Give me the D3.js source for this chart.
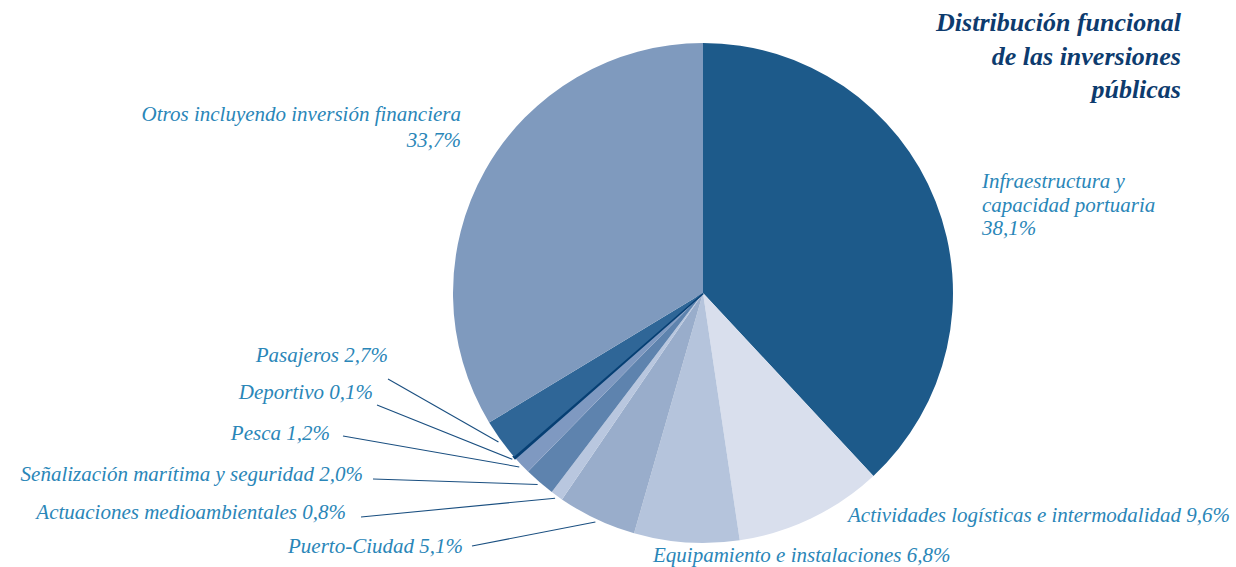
<!DOCTYPE html>
<html><head><meta charset="utf-8">
<script src="https://cdn.jsdelivr.net/npm/d3@7"></script>
</head>
<body style="margin:0;background:#fff">
<svg id="chart" width="1236" height="567" style="display:block"></svg>
<script>
const categories = ["Infraestructura y capacidad portuaria","Actividades logísticas e intermodalidad","Equipamiento e instalaciones","Puerto-Ciudad","Actuaciones medioambientales","Señalización marítima y seguridad","Pesca","Deportivo","Pasajeros","Otros incluyendo inversión financiera"];
const values = [38.1, 9.6, 6.8, 5.1, 0.8, 2.0, 1.2, 0.1, 2.7, 33.7];
const valueLabels = ["38,1%","9,6%","6,8%","5,1%","0,8%","2,0%","1,2%","0,1%","2,7%","33,7%"];
const colors = ["#1d5a8a","#d9dfed","#b5c4dc","#99adcb","#b9c7df","#5e83ae","#7f99c1","#063f73","#2f6697","#7f9abe"];
const titleLines = ["Distribución funcional","de las inversiones","públicas"];

const FONT = '"Liberation Serif", monospace';
const svg = d3.select("#chart");
const cx = 703, cy = 293, R = 250;
const g = svg.append("g").attr("transform",`translate(${cx},${cy})`);
const pie = d3.pie().sort(null).value(d=>d);
const arcs = pie(values);
const arc = d3.arc().innerRadius(0).outerRadius(R);
g.selectAll("path").data(arcs).join("path")
  .attr("d",arc).attr("fill",(d,i)=>colors[i])
  .attr("stroke",(d,i)=>values[i] < 0.5 ? colors[i] : "none")
  .attr("stroke-width",2.5);

function addText(str, x, y, anchor, size, fill, bold){
  return svg.append("text").attr("x",x).attr("y",y).attr("text-anchor",anchor)
    .attr("fill",fill).attr("font-size",size).attr("font-style","italic")
    .attr("font-weight",bold ? "bold" : "normal")
    .style("font-family",FONT).text(str);
}

titleLines.forEach((t,i)=>addText(t, 1181, 31+i*33.5, "end", 26, "#0d3b6e", true));

const labColor = "#2a86b8";
const layout = [
  [0, [ "Infraestructura y","capacidad portuaria", valueLabels[0]], 982, 188, "start", 23.5, null],
  [1, [categories[1]+" "+valueLabels[1]], 848, 522, "start", 0, null],
  [2, [categories[2]+" "+valueLabels[2]], 653, 562, "start", 0, null],
  [3, [categories[3]+" "+valueLabels[3]], 463, 553, "end", 0, [472,546]],
  [4, [categories[4]+" "+valueLabels[4]], 346, 519, "end", 0, [361,517]],
  [5, [categories[5]+" "+valueLabels[5]], 363, 481, "end", 0, [373,479]],
  [6, [categories[6]+" "+valueLabels[6]], 330, 440, "end", 0, [343,436]],
  [7, [categories[7]+" "+valueLabels[7]], 373, 399, "end", 0, [377,405]],
  [8, [categories[8]+" "+valueLabels[8]], 388, 362, "end", 0, [388,379]],
  [9, [categories[9], valueLabels[9]], 461, 121, "end", 26, null]
];
layout.forEach(([i,lines,x,y,anchor,gap,ls])=>{
  lines.forEach((l,k)=>addText(l, x, y+k*gap, anchor, 21, labColor, false));
  if(ls){
    const a = (arcs[i].startAngle+arcs[i].endAngle)/2;
    const r2 = R+3;
    const ex = cx + r2*Math.sin(a), ey = cy - r2*Math.cos(a);
    svg.append("line").attr("x1",ls[0]).attr("y1",ls[1]).attr("x2",ex).attr("y2",ey)
      .attr("stroke","#1a4f80").attr("stroke-width",1.1);
  }
});
</script>
</body></html>
